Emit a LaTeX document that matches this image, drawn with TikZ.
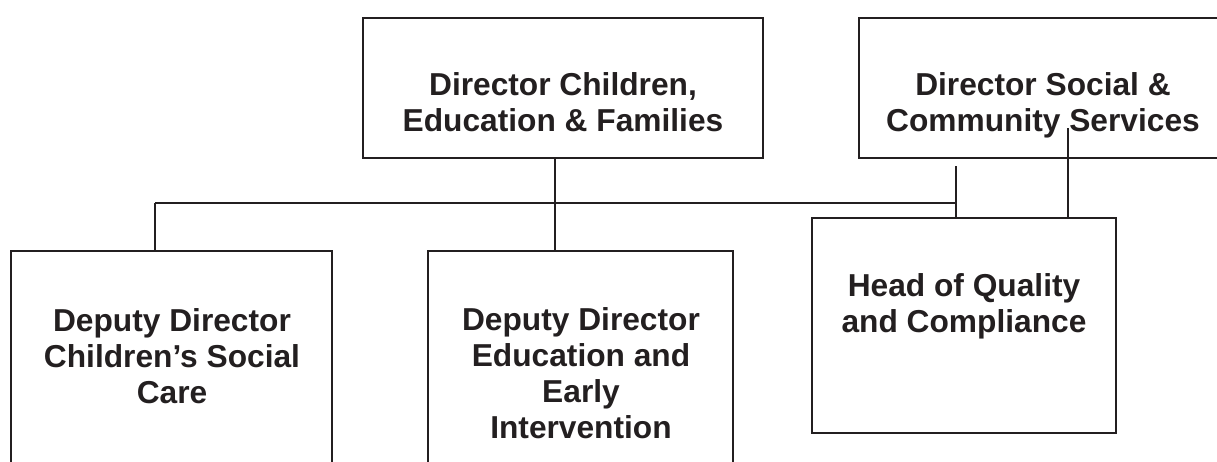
\documentclass[tikz,border=0pt]{standalone}
\usepackage{fontspec}
\setmainfont{Liberation Sans}
\definecolor{ink}{HTML}{231F20}
\begin{document}
\begin{tikzpicture}[x=1pt,y=-1pt,
  box/.style={draw=ink, line width=1.8pt, inner sep=0pt, outer sep=0pt, anchor=north west},
  lbl/.style={font=\bfseries\fontsize{31.7}{36}\selectfont, align=center, inner sep=0pt, text=ink, anchor=north},
  conn/.style={draw=ink, line width=1.8pt}]
\useasboundingbox (0,0) rectangle (1217,461);
\clip (0,0) rectangle (1217,461);
% boxes
\node[box, minimum width=400pt, minimum height=140pt] (dce) at (363,18) {};
\node[box, minimum width=420pt, minimum height=140pt] (dsc) at (859,18) {};
\node[box, minimum width=321pt, minimum height=240pt] (ddA) at (11,251) {};
\node[box, minimum width=305pt, minimum height=240pt] (ddB) at (428,251) {};
\node[box, minimum width=304pt, minimum height=215pt] (hq) at (812,218) {};
% texts
\node[lbl] (dcet) at (563,72) {Director Children,\\Education \& Families};
\node[lbl] (dsct) at (1043,72) {Director Social \&\\Community Services};
\node[lbl] (ddAt) at (172,308) {Deputy Director\\Children’s Social\\Care};
\node[lbl] (ddBt) at (581,307) {Deputy Director\\Education and\\Early\\Intervention};
\node[lbl] (hqt) at (964,273) {Head of Quality\\and Compliance};
% connector points
\coordinate (x555) at (555,0);
\coordinate (busL) at (155,203);
\coordinate (busR) at (956,203);
\coordinate (sTop) at (956,166);
\coordinate (cTop) at (1068,128);
\draw[conn] (dce.south -| x555) -- (ddB.north -| x555);
\draw[conn] (busL) -- (busR);
\draw[conn] (busL) -- (ddA.north -| busL);
\draw[conn] (sTop) -- (hq.north -| sTop);
\draw[conn] (cTop) -- (hq.north -| cTop);
\end{tikzpicture}
\end{document}
